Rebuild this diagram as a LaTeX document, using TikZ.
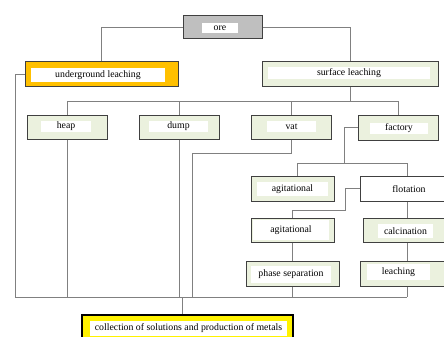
\documentclass[tikz,border=0pt]{standalone}
\usepackage{fontspec}
\setmainfont{Liberation Serif}
\usetikzlibrary{positioning}
\definecolor{boxgreen}{HTML}{EBF1DE}
\definecolor{boxline}{HTML}{404040}
\definecolor{wire}{HTML}{808080}
\definecolor{oregray}{HTML}{BFBFBF}
\definecolor{ugorange}{HTML}{FFC000}

\begin{document}
\begin{tikzpicture}
[x=1pt, y=-1pt, font=\fontsize{9.8}{11}\selectfont,
 box/.style={draw=boxline, line width=1pt, fill=boxgreen, inner sep=0pt},
 txt/.style={fill=white, inner sep=0pt, minimum height=11pt},
 wirepath/.style={draw=wire, line width=0.8pt}]

\useasboundingbox[fill=white] (0,0) rectangle (444,337);
\clip (0,0) rectangle (444,337);

% Boxes of the first two levels:
\node[box, fill=oregray, minimum width=79pt, minimum height=23pt] (ore) at (222.5,27.5) {};
\node[txt, minimum width=36pt, minimum height=10pt] (ore-t) at (220,28) {ore};
\node[box, fill=ugorange, minimum width=153pt, minimum height=24pt] (under) at (101.5,74) {};
\node[txt, minimum width=134pt, minimum height=14pt] (under-t) at (98,75) {underground leaching};
\node[box, minimum width=176pt, minimum height=24pt] (surf) at (350,74) {};
\node[txt, minimum width=162pt, minimum height=12pt] (surf-t) at (349,73) {surface leaching};

% Kinds of surface leaching:
\node[box, minimum width=80pt, minimum height=24pt] (heap) at (67,127) {};
\node[txt, minimum width=50pt] (heap-t) at (66,126.5) {heap};
\node[box, minimum width=80pt, minimum height=24pt] (dump) at (179,127) {};
\node[txt, minimum width=59pt] (dump-t) at (178.5,126.5) {dump};
\node[box, minimum width=80pt, minimum height=24pt] (vat) at (291,127) {};
\node[txt, minimum width=49pt] (vat-t) at (291.5,126.5) {vat};
\node[box, minimum width=80pt, minimum height=25pt] (factory) at (398,127.5) {};
\node[txt, minimum width=58pt] (factory-t) at (399,128) {factory};

% Factory branch:
\node[box, minimum width=83pt, minimum height=25pt] (agit1) at (292.5,188.5) {};
\node[txt, minimum width=71pt, minimum height=14pt] (agit1-t) at (292.5,189) {agitational};
\node[box, fill=white, minimum width=94pt, minimum height=25pt] (flot) at (407,188.5) {};
\node[txt] (flot-t) at (409,189) {flotation};
\node[box, minimum width=83pt, minimum height=24pt] (agit2) at (292.5,230) {};
\node[txt, minimum width=76pt, minimum height=20pt] (agit2-t) at (291,230) {agitational};
\node[box, minimum width=88pt, minimum height=24pt] (calc) at (407,230) {};
\node[txt, minimum width=55pt, minimum height=14pt] (calc-t) at (405.5,231) {calcination};
\node[box, minimum width=93pt, minimum height=25pt] (phase) at (292.5,273.5) {};
\node[txt, minimum width=80pt, minimum height=17pt] (phase-t) at (291,274) {phase separation};
\node[box, minimum width=94pt, minimum height=25pt] (leach) at (407,273.5) {};
\node[txt, minimum width=63pt, minimum height=16pt] (leach-t) at (398.5,272) {leaching};

% Final box:
\node[box, draw=black, line width=1.6pt, fill=yellow, minimum width=211pt, minimum height=26pt] (coll) at (187.5,328) {};
\node[txt, minimum width=197pt, minimum height=15pt] (coll-t) at (188.5,328) {collection of solutions and production of metals};

% Bus coordinates:
\coordinate (busA) at (67,101);
\coordinate (busB) at (398,101);
\coordinate (vatbend) at (192,153);
\coordinate (facbend) at (344,163);
\coordinate (facL) at (297,163);
\coordinate (flotbend) at (345,210);
\coordinate (low) at (15,297);
\coordinate (lowR) at (407,297);
\coordinate (collin) at (182,297);

% Connectors:
\draw[wirepath] (ore.west) -| (under.north);
\draw[wirepath] (ore.east) -| (surf.north);
\draw[wirepath] (surf.south) -- (surf.south |- busA);
\draw[wirepath] (busA) -- (busB);
\draw[wirepath] (busA) -- (heap.north);
\draw[wirepath] (dump.north |- busA) -- (dump.north);
\draw[wirepath] (vat.north |- busA) -- (vat.north);
\draw[wirepath] (busB) -- (factory.north);
\draw[wirepath] (factory.west) -| (facbend);
\draw[wirepath] (facL) -- (facL -| flot.north) -- (flot.north);
\draw[wirepath] (facL) -- (facL |- agit1.north);
\draw[wirepath] (flot.west) -| (flotbend) -| (agit2.north);
\draw[wirepath] (flot.south) -- (calc.north);
\draw[wirepath] (calc.south) -- (leach.north);
\draw[wirepath] (agit2.south) -- (phase.north);
\draw[wirepath] (under.west) -| (low);
\draw[wirepath] (heap.south) -- (heap.south |- low);
\draw[wirepath] (dump.south) -- (dump.south |- low);
\draw[wirepath] (vat.south) |- (vatbend) -- (vatbend |- low);
\draw[wirepath] (phase.south) -- (phase.south |- low);
\draw[wirepath] (leach.south) -- (lowR);
\draw[wirepath] (low) -- (lowR);
\draw[wirepath] (collin) -- (collin |- coll.north);

\end{tikzpicture}
\end{document}
